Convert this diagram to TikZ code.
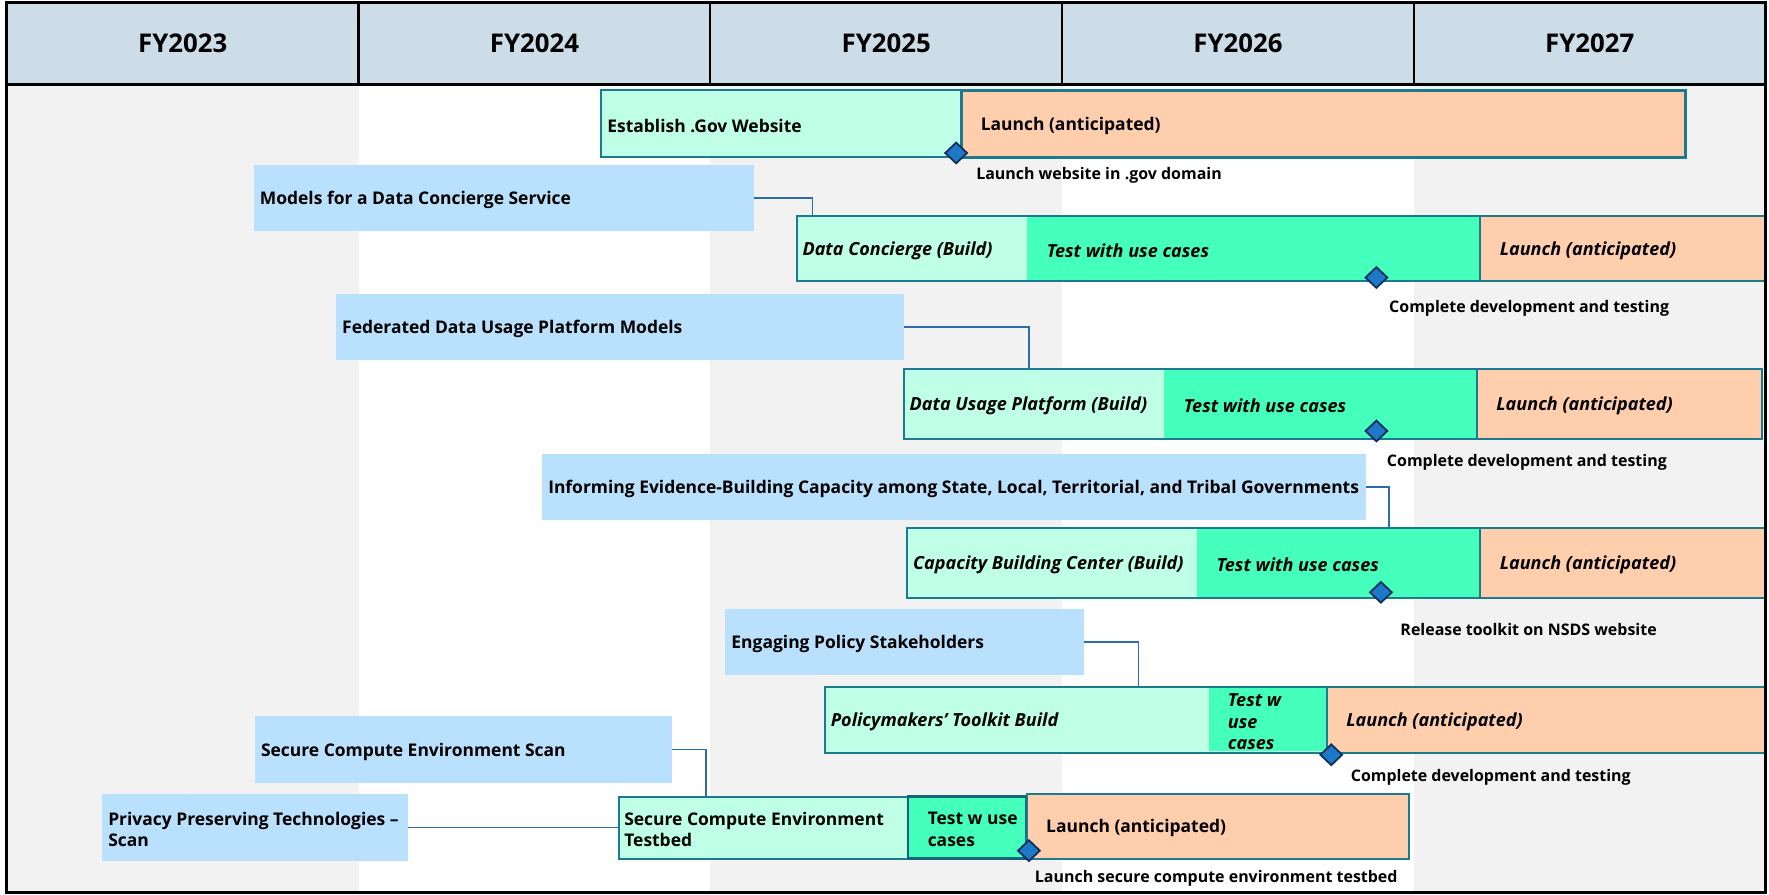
\documentclass[tikz,border=0pt]{standalone}
\usepackage{fontspec}
\setmainfont{Open Sans}
\usetikzlibrary{shapes.geometric}

\definecolor{headblue}{HTML}{CCDDE8}
\definecolor{colgray}{HTML}{F2F2F2}
\definecolor{modelblue}{HTML}{B9E0FC}
\definecolor{buildmint}{HTML}{BFFFE8}
\definecolor{testgreen}{HTML}{45FFBC}
\definecolor{launchpeach}{HTML}{FFCEAD}
\definecolor{rowteal}{HTML}{1B7A8C}
\definecolor{testteal}{HTML}{136478}
\definecolor{linkblue}{HTML}{2E6BA8}
\definecolor{msblue}{HTML}{1E78C8}
\definecolor{msnavy}{HTML}{0D2F5A}

\tikzset{
    segw/.style={minimum width=#1*0.2mm},
    segh/.style={minimum height=#1*0.2mm},
    seg/.style={anchor=north west, inner sep=0pt, outer sep=0pt},
    yearcell/.style={seg, fill=headblue, draw=black, line width=0.4mm,
        font=\fontsize{13}{15}\selectfont\bfseries},
    modelbox/.style={seg, fill=modelblue},
    rowbox/.style={seg, fill=buildmint, draw=rowteal, line width=1pt},
    testseg/.style={seg, fill=testgreen},
    launchseg/.style={seg, fill=launchpeach, draw=rowteal, line width=1pt},
    segtext/.style={anchor=west, inner sep=0pt, align=left, yshift=-0.35mm,
        font=\fontsize{8.8}{11}\selectfont\bfseries},
    segtextit/.style={segtext, font=\fontsize{9.1}{11}\selectfont\bfseries\itshape},
    mstone/.style={diamond, fill=msblue, draw=msnavy, line width=0.9pt,
        inner sep=0pt, minimum width=4mm, minimum height=3.8mm},
    mslabel/.style={anchor=west, inner sep=0pt, yshift=-0.45mm,
        font=\fontsize{8.05}{10}\selectfont\bfseries},
    link/.style={draw=linkblue, line width=0.8pt}
}

\begin{document}
\begin{tikzpicture}[x=0.2mm, y=-0.2mm]
    \useasboundingbox (0,0) rectangle (1568,792.6);

    % Columnas
    \foreach \i in {0,2,4}
        \fill[colgray] (6+311.8*\i,75) rectangle (6+311.8*\i+311.8,791);

    % Encabezado
    \foreach \i/\yr in {0/2023,1/2024,2/2025,3/2026,4/2027}
        \node[yearcell, segw=311.8, segh=72.6] (fy\yr) at (6+311.8*\i,2.4) {FY\yr};

    % Sitio .gov
    \node[rowbox, segw=319, segh=60] (govrow) at (533,79.5) {};
    \node[launchseg, line width=1.6pt, segw=642, segh=59.5] (govlaunch) at (852,80) {};
    \node[segtext] (govtxt) at ([xshift=1mm]govrow.west) {Establish .Gov Website};
    \node[segtext] (govlaunchtxt) at ([xshift=3.4mm]govlaunch.west) {Launch (anticipated)};
    \node[mstone] (govms) at (847.5,135.6) {};
    \node[mslabel] (govmstxt) at (865,153) {Launch website in .gov domain};

    % Data Concierge
    \node[modelbox, segw=443, segh=58.5] (dcmodels) at (225,146) {};
    \node[segtext] (dcmodelstxt) at ([xshift=1mm]dcmodels.west) {Models for a Data Concierge Service};
    \node[rowbox, segw=858, segh=58] (dcrow) at (706,191.5) {};
    \node[testseg, segw=401.5, segh=56] (dctest) at (910.5,192.5) {};
    \node[launchseg, segw=252, segh=58] (dclaunch) at (1312,191.5) {};
    \node[segtextit] (dcrowtxt) at ([xshift=1mm]dcrow.west) {Data Concierge (Build)};
    \node[segtextit] (dctesttxt) at ([xshift=3.4mm]dctest.west) {Test with use cases};
    \node[segtextit] (dclaunchtxt) at ([xshift=3.4mm]dclaunch.west) {Launch (anticipated)};
    \draw[link] (dcmodels.east) -| ([xshift=2.8mm]dcrow.north west);
    \node[mstone] (dcms) at (1220,246) {};
    \node[mslabel] (dcmstxt) at (1231,271) {Complete development and testing};

    % Data Usage Platform
    \node[modelbox, segw=503, segh=58.4] (dupmodels) at (298,260.6) {};
    \node[segtext] (dupmodelstxt) at ([xshift=1mm]dupmodels.west) {Federated Data Usage Platform Models};
    \node[rowbox, segw=761, segh=62] (duprow) at (801,327) {};
    \node[testseg, segw=277, segh=60] (duptest) at (1032,328) {};
    \node[launchseg, segw=253, segh=62] (duplaunch) at (1309,327) {};
    \node[segtextit] (duprowtxt) at ([xshift=1mm]duprow.west) {Data Usage Platform (Build)};
    \node[segtextit] (duptesttxt) at ([xshift=3.4mm]duptest.west) {Test with use cases};
    \node[segtextit] (duplaunchtxt) at ([xshift=3.4mm]duplaunch.west) {Launch (anticipated)};
    \draw[link] (dupmodels.east) -| ([xshift=22.2mm]duprow.north west);
    \node[mstone] (dupms) at (1220,382) {};
    \node[mslabel] (dupmstxt) at (1229,408) {Complete development and testing};

    % Capacity Building Center
    \node[modelbox, segw=730.4, segh=58.5] (cbmodels) at (480.6,402.5) {};
    \node[segtext] (cbmodelstxt) at ([xshift=1mm]cbmodels.west) {Informing Evidence-Building Capacity among State, Local, Territorial, and Tribal Governments};
    \node[rowbox, segw=760, segh=62] (cbrow) at (804,468) {};
    \node[testseg, segw=251, segh=60] (cbtest) at (1061,469) {};
    \node[launchseg, segw=252, segh=62] (cblaunch) at (1312,468) {};
    \node[segtextit] (cbrowtxt) at ([xshift=1mm]cbrow.west) {Capacity Building Center (Build)};
    \node[segtextit] (cbtesttxt) at ([xshift=3.4mm]cbtest.west) {Test with use cases};
    \node[segtextit] (cblaunchtxt) at ([xshift=3.4mm]cblaunch.west) {Launch (anticipated)};
    \draw[link] (cbmodels.east) -| ([xshift=85.4mm]cbrow.north west);
    \node[mstone] (cbms) at (1224,525) {};
    \node[mslabel] (cbmstxt) at (1241,556) {Release toolkit on NSDS website};

    % Policymakers' Toolkit
    \node[modelbox, segw=318, segh=58] (ptmodels) at (643,540) {};
    \node[segtext] (ptmodelstxt) at ([xshift=1mm]ptmodels.west) {Engaging Policy Stakeholders};
    \node[rowbox, segw=833, segh=58] (ptrow) at (731,609) {};
    \node[testseg, segw=104, segh=56] (pttest) at (1072,610) {};
    \node[launchseg, segw=388, segh=58] (ptlaunch) at (1176,609) {};
    \node[segtextit] (ptrowtxt) at ([xshift=1mm]ptrow.west) {Policymakers’ Toolkit Build};
    \node[segtextit] (pttesttxt) at ([xshift=3.2mm]pttest.west) {Test w\\use\\cases};
    \node[segtextit] (ptlaunchtxt) at ([xshift=3.4mm]ptlaunch.west) {Launch (anticipated)};
    \draw[link] (ptmodels.east) -| ([xshift=55.6mm]ptrow.north west);
    \node[mstone] (ptms) at (1180,669) {};
    \node[mslabel] (ptmstxt) at (1197,687) {Complete development and testing};

    % Secure Compute Environment
    \node[modelbox, segw=370, segh=59] (scscan) at (226,635) {};
    \node[segtext] (scscantxt) at ([xshift=1mm]scscan.west) {Secure Compute Environment Scan};
    \node[modelbox, segw=271.4, segh=59] (ppscan) at (90.6,704) {};
    \node[segtext] (ppscantxt) at ([xshift=1mm]ppscan.west) {Privacy Preserving Technologies –\\Scan};
    \node[rowbox, segw=700, segh=55] (scrow) at (549,706) {};
    \node[testseg, draw=testteal, line width=1.2pt, segw=105, segh=55] (sctest) at (805,706) {};
    \node[launchseg, segw=339, segh=57] (sclaunch) at (910,704) {};
    \node[segtext] (scrowtxt) at ([xshift=0.8mm]scrow.west) {Secure Compute Environment\\Testbed};
    \node[segtext] (sctesttxt) at ([xshift=3.4mm]sctest.west) {Test w use\\cases};
    \node[segtext] (sclaunchtxt) at ([xshift=3.4mm]sclaunch.west) {Launch (anticipated)};
    \draw[link] (scscan.east) -| ([xshift=15.4mm]scrow.north west);
    \draw[link] (ppscan.east) -- (ppscan.east -| scrow.west);
    \node[mstone] (scms) at (912,754) {};
    \node[mslabel] (scmstxt) at (917,776.6) {Launch secure compute environment testbed};

    % Marco
    \draw[line width=0.55mm] (6,2.4) rectangle (1565,791);
\end{tikzpicture}
\end{document}
